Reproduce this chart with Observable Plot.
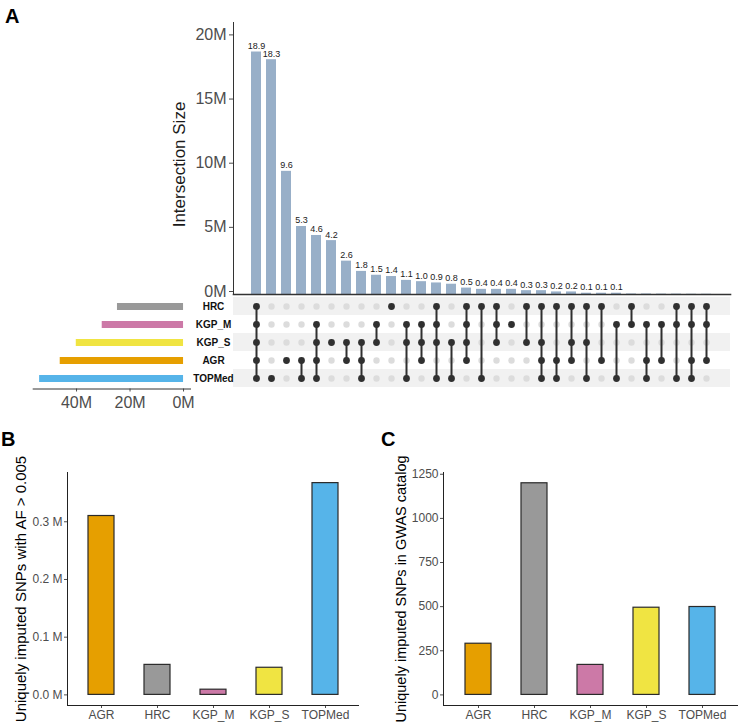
<!DOCTYPE html>
<html><head><meta charset="utf-8">
<script src="https://cdn.jsdelivr.net/npm/d3@7"></script>
<script src="https://cdn.jsdelivr.net/npm/@observablehq/plot@0.6"></script>
<style>
body{margin:0;background:#fff;}
#root{position:relative;width:744px;height:725px;overflow:hidden;background:#fff;font-family:"Liberation Sans",Arial,sans-serif;}
.p{position:absolute;}
.letter{position:absolute;font-weight:bold;font-size:20px;line-height:1;color:#000;}
</style></head><body><div id="root"></div>
<script>
// ---- Panel A: UpSet data ----
const intersectionSizes = [18.9, 18.3, 9.6, 5.3, 4.6, 4.2, 2.6, 1.8, 1.5, 1.4, 1.1, 1.0, 0.9, 0.8, 0.5, 0.4, 0.4, 0.4, 0.3, 0.3, 0.2, 0.2, 0.1, 0.1, 0.1, 0.04, 0.04, 0.03, 0.03, 0.02, 0.02];
const intersectionLabels = ["18.9","18.3","9.6","5.3","4.6","4.2","2.6","1.8","1.5","1.4","1.1","1.0","0.9","0.8","0.5","0.4","0.4","0.4","0.3","0.3","0.2","0.2","0.1","0.1","0.1","","","","","",""];
const intersectionSets = [
  ["HRC","KGP_M","KGP_S","AGR","TOPMed"],
  ["TOPMed"],
  ["AGR"],
  ["AGR","TOPMed"],
  ["KGP_M","KGP_S","AGR","TOPMed"],
  ["KGP_S"],
  ["KGP_S","AGR"],
  ["KGP_S","AGR","TOPMed"],
  ["KGP_M","KGP_S"],
  ["HRC"],
  ["KGP_M","KGP_S","TOPMed"],
  ["KGP_M","KGP_S","AGR"],
  ["HRC","KGP_M","KGP_S","TOPMed"],
  ["KGP_S","TOPMed"],
  ["HRC","KGP_M","KGP_S","AGR"],
  ["HRC","TOPMed"],
  ["HRC","KGP_M","KGP_S"],
  ["KGP_M"],
  ["HRC","KGP_S"],
  ["HRC","KGP_S","AGR","TOPMed"],
  ["HRC","AGR","TOPMed"],
  ["HRC","KGP_S","AGR"],
  ["HRC","KGP_S","TOPMed"],
  ["HRC","AGR"],
  ["KGP_M","TOPMed"],
  ["HRC","KGP_M"],
  ["KGP_M","AGR","TOPMed"],
  ["KGP_M","AGR"],
  ["HRC","KGP_M","TOPMed"],
  ["HRC","KGP_M","AGR","TOPMed"],
  ["HRC","KGP_M","AGR"]
];
const setNames = ["HRC","KGP_M","KGP_S","AGR","TOPMed"];
const setSizes = [24.7, 30.4, 40.1, 46.1, 53.8]; // millions
const stripedSets = ["HRC","KGP_S","TOPMed"];
const intersectionTicks = [0, 5, 10, 15, 20];
const setSizeTicks = [0, 20, 40];

// ---- Panels B & C ----
const panelCategories = ["AGR","HRC","KGP_M","KGP_S","TOPMed"];
const setColors = {AGR:"#E69F00", HRC:"#999999", KGP_M:"#CC79A7", KGP_S:"#F0E442", TOPMed:"#56B4E9"};
const afSnps = [0.310, 0.052, 0.009, 0.047, 0.367]; // millions
const afTicks = [0, 0.1, 0.2, 0.3];
const gwasSnps = [290, 1199, 170, 494, 498];
const gwasTicks = [0, 250, 500, 750, 1000, 1250];

const FONT = "Liberation Sans, Arial, sans-serif";
const root = document.getElementById("root");
function place(el, left, top) { el.classList.add("p"); el.style.left = left + "px"; el.style.top = top + "px"; root.appendChild(el); }
const baseStyle = {fontFamily: FONT, background: "transparent", overflow: "visible"};

const ids = intersectionSizes.map((_, i) => i + 1);
const inter = intersectionSizes.map((v, i) => ({id: i + 1, value: v, label: intersectionLabels[i]}));
const xBand = {type: "band", domain: ids, range: [240.55, 721.05], paddingInner: 0.35, paddingOuter: 0.175, axis: null};

// Intersection bars
const plotA = Plot.plot({
  width: 744, height: 300,
  marginTop: 22, marginBottom: 6, marginLeft: 233, marginRight: 14,
  style: baseStyle,
  x: xBand,
  y: {domain: [0, 21.2]},
  marks: [
    Plot.barY(inter, {x: "id", y: "value", fill: "#98AFC8"}),
    Plot.text(inter.filter(d => d.label), {x: "id", y: "value", text: "label", dy: -6, fontSize: 9, fill: "#1a1a1a"}),
    Plot.axisY({ticks: intersectionTicks, tickFormat: d => d + "M", fontSize: 16, tickSize: 4, tickPadding: 3, dy: -3, color: "#4d4d4d", label: null}),
    Plot.frame({anchor: "left", stroke: "#333", strokeWidth: 1}),
    Plot.frame({anchor: "bottom", stroke: "#333", strokeWidth: 1.6}),
    Plot.text(["Intersection Size"], {frameAnchor: "left", textAnchor: "middle", rotate: -90, dx: -54, dy: 6, fontSize: 17, fill: "#1a1a1a"})
  ]
});
place(plotA, 0, 0);

// Matrix
const matrixAll = [];
const matrixOn = [];
intersectionSets.forEach((sets, i) => {
  setNames.forEach(s => {
    const d = {id: i + 1, set: s};
    if (sets.includes(s)) matrixOn.push(d); else matrixAll.push(d);
  });
});
const plotM = Plot.plot({
  width: 744, height: 392,
  marginTop: 296, marginBottom: 3.5, marginLeft: 233, marginRight: 14,
  style: baseStyle,
  x: xBand,
  y: {type: "band", domain: setNames, range: [296, 388.5], padding: 0},
  marks: [
    Plot.cell(stripedSets, {y: d => d, fill: "#F1F1F1"}),
    Plot.dot(matrixAll, {x: "id", y: "set", r: 3.2, fill: "#DCDCDC"}),
    Plot.line(matrixOn, {x: "id", y: "set", z: "id", stroke: "#303030", strokeWidth: 2}),
    Plot.dot(matrixOn, {x: "id", y: "set", r: 3.4, fill: "#303030"}),
    Plot.axisY({tickSize: 0, tickPadding: 20, textAnchor: "middle", fontSize: 10, fontWeight: "bold", color: "#111", label: null})
  ]
});
place(plotM, 0, 0);

// Set size bars
const setData = setNames.map((s, i) => ({set: s, size: setSizes[i], color: setColors[s]}));
const plotS = Plot.plot({
  width: 744, height: 412,
  marginTop: 296, marginBottom: 23.5, marginLeft: 32.7, marginRight: 554,
  style: baseStyle,
  x: {domain: [56.2, -2.6]},
  y: {type: "band", domain: setNames, range: [296, 388.5], paddingInner: 0.6, paddingOuter: 0.3, axis: null},
  color: {type: "identity"},
  marks: [
    Plot.barX(setData, {y: "set", x: "size", fill: "color"}),
    Plot.axisX({ticks: setSizeTicks, tickFormat: d => d + "M", fontSize: 16, tickSize: 3, tickPadding: 5, color: "#4d4d4d", label: null}),
    Plot.frame({anchor: "bottom", stroke: "#333", strokeWidth: 1})
  ]
});
place(plotS, 0, 0);

// Panel B
const dataB = panelCategories.map((c, i) => ({set: c, value: afSnps[i], color: setColors[c]}));
const plotB = Plot.plot({
  width: 372, height: 325,
  marginTop: 72, marginBottom: 20, marginLeft: 67, marginRight: 14,
  style: baseStyle,
  x: {type: "band", domain: panelCategories, paddingInner: 0.536, paddingOuter: 0.357},
  y: {domain: [-0.0184, 0.3854]},
  color: {type: "identity"},
  marks: [
    Plot.barY(dataB, {x: "set", y: "value", fill: "color", stroke: "#2a2a2a", strokeWidth: 1.2}),
    Plot.axisY({ticks: afTicks, tickFormat: d => d.toFixed(1) + " M", fontSize: 12, tickSize: 3, tickPadding: 2, color: "#4d4d4d", label: null}),
    Plot.axisX({fontSize: 12, tickSize: 3, tickPadding: 2, color: "#4d4d4d", label: null}),
    Plot.frame({anchor: "left", stroke: "#222", strokeWidth: 1}),
    Plot.frame({anchor: "bottom", stroke: "#222", strokeWidth: 1}),
    Plot.text(["Uniquely imputed SNPs with AF > 0.005"], {frameAnchor: "left", textAnchor: "middle", rotate: -90, dx: -46, fontSize: 15, fill: "#000"})
  ]
});
place(plotB, 0, 400);

// Panel C
const dataC = panelCategories.map((c, i) => ({set: c, value: gwasSnps[i], color: setColors[c]}));
const plotC = Plot.plot({
  width: 374, height: 325,
  marginTop: 72, marginBottom: 20, marginLeft: 73, marginRight: 7,
  style: baseStyle,
  x: {type: "band", domain: panelCategories, paddingInner: 0.536, paddingOuter: 0.357},
  y: {domain: [-60, 1260]},
  color: {type: "identity"},
  marks: [
    Plot.barY(dataC, {x: "set", y: "value", fill: "color", stroke: "#2a2a2a", strokeWidth: 1.2}),
    Plot.axisY({ticks: gwasTicks, tickFormat: d => String(d), fontSize: 12, tickSize: 3, tickPadding: 2, color: "#4d4d4d", label: null}),
    Plot.axisX({fontSize: 12, tickSize: 3, tickPadding: 2, color: "#4d4d4d", label: null}),
    Plot.frame({anchor: "left", stroke: "#222", strokeWidth: 1}),
    Plot.frame({anchor: "bottom", stroke: "#222", strokeWidth: 1}),
    Plot.text(["Uniquely imputed SNPs in GWAS catalog"], {frameAnchor: "left", textAnchor: "middle", rotate: -90, dx: -42, fontSize: 14.5, fill: "#000"})
  ]
});
place(plotC, 370, 400);

// Panel letters
[["A", 5, 6], ["B", 1, 429], ["C", 381, 429]].forEach(([t, l, tp]) => {
  const d = document.createElement("div");
  d.className = "letter"; d.textContent = t;
  d.style.left = l + "px"; d.style.top = tp + "px";
  root.appendChild(d);
});
</script>
</body></html>
